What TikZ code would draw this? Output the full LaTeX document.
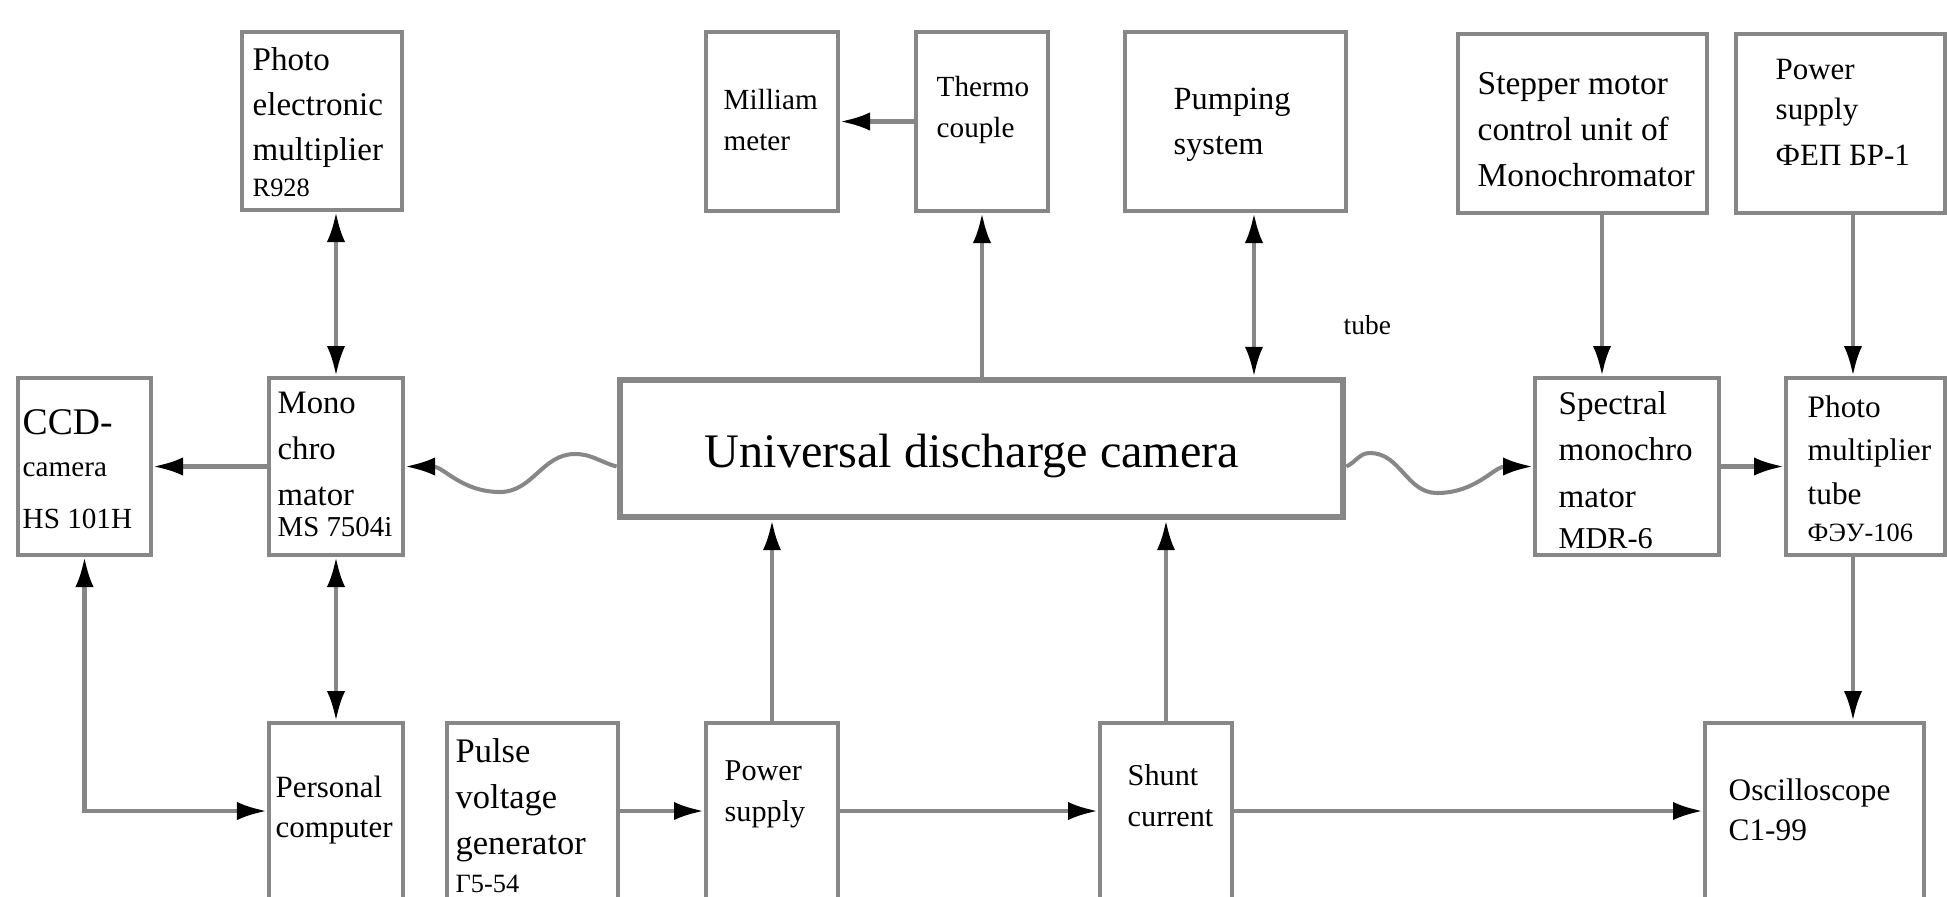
\documentclass[tikz,border=0pt]{standalone}
\usepackage{fontspec}
\setmainfont{Liberation Serif}
\usetikzlibrary{arrows.meta,fit}
\definecolor{linegray}{RGB}{135,135,135}
\newcommand\boxtext[1]{\begin{tabular}[t]{@{}l@{}}#1\end{tabular}}
\newcommand\fs[2]{\fontsize{#1}{#2}\selectfont}
\begin{document}
\begin{tikzpicture}[x=0.01cm,y=-0.01cm,
  blk/.style={draw=linegray, line width=1.2pt, inner sep=0pt},
  bigblk/.style={draw=linegray, line width=1.9pt, inner sep=0pt},
  txt/.style={inner sep=0pt, anchor=base west},
  con/.style={draw=linegray, line width=1.15pt},
  tip/.style={-{Latex[black,length=8.5pt,width=5.2pt]}},
  dtip/.style={{Latex[black,length=8.5pt,width=5.2pt]}-{Latex[black,length=8.5pt,width=5.2pt]}},
]
\useasboundingbox (0,0) rectangle (1947,896);
\clip (0,0) rectangle (1947,896);

% ---- boxes ----
\node[blk, fit={(242,32) (402,210)}] (pem) {};
\node[blk, fit={(706,32) (838,211)}] (milli) {};
\node[blk, fit={(916,32) (1048,211)}] (thermo) {};
\node[blk, fit={(1125,32) (1346,211)}] (pump) {};
\node[blk, fit={(1458,34) (1707,213)}] (step) {};
\node[blk, fit={(1736,34) (1945,213)}] (psfep) {};

\node[blk, fit={(18,378) (151,555)}] (ccd) {};
\node[blk, fit={(269,378) (403,555)}] (mono) {};
\node[bigblk, fit={(620,380) (1343,517)}] (udc) {};
\node[blk, fit={(1535,378) (1719,555)}] (spec) {};
\node[blk, fit={(1786,378) (1945,555)}] (pmt) {};

\node[blk, fit={(269,723) (403,930)}] (pc) {};
\node[blk, fit={(447,723) (618,930)}] (pulse) {};
\node[blk, fit={(706,723) (838,930)}] (ps) {};
\node[blk, fit={(1100,723) (1232,930)}] (shunt) {};
\node[blk, fit={(1705,723) (1924,930)}] (osc) {};

% ---- texts ----
\node[txt, font=\fs{9.4}{12.8}] (pem-t) at (252,70) {\boxtext{Photo\\electronic\\multiplier\\[-2.3pt]{\fs{7.5}{9}R928}}};
\node[txt, font=\fs{8.3}{11.7}] (milli-t) at (723,109) {\boxtext{Milliam\\meter}};
\node[txt, font=\fs{8.3}{11.7}] (thermo-t) at (936,96) {\boxtext{Thermo\\couple}};
\node[txt, font=\fs{9.2}{12.8}] (pump-t) at (1173,109) {\boxtext{Pumping\\system}};
\node[txt, font=\fs{9.5}{13.1}] (step-t) at (1477,94) {\boxtext{Stepper motor\\control unit of\\Monochromator}};
\node[txt, font=\fs{8.8}{11.4}] (psfep-t) at (1775,79) {\boxtext{Power\\supply\\[1.7pt]ФЕП БР-1}};

\node[txt, font=\fs{8.3}{12.2}] (ccd-t) at (22,434) {\boxtext{{\fs{10.7}{12}CCD-}\\camera\\[2.6pt]HS 101H}};
\node[txt, font=\fs{9.3}{13.1}] (mono-t) at (277,413) {\boxtext{Mono\\chro\\mator\\[-4.3pt]{\fs{8.2}{9}MS 7504i}}};
\node[txt, anchor=base, font=\fs{13.7}{16}] (udc-t) at (972,467) {Universal discharge camera};
\node[txt, font=\fs{9.4}{13.3}] (spec-t) at (1558,414) {\boxtext{Spectral\\monochro\\mator\\[-1.7pt]{\fs{8.6}{10}MDR-6}}};
\node[txt, font=\fs{8.9}{12.5}] (pmt-t) at (1807,417) {\boxtext{Photo\\multiplier\\tube\\[-2pt]{\fs{7.5}{9}ФЭУ-106}}};

\node[txt, font=\fs{8.8}{11.4}] (pc-t) at (275,797) {\boxtext{Personal\\computer}};
\node[txt, font=\fs{9.8}{13.1}] (pulse-t) at (455,762) {\boxtext{Pulse\\voltage\\generator\\[-2.3pt]{\fs{7.5}{9}Г5-54}}};
\node[txt, font=\fs{8.6}{11.9}] (ps-t) at (724,780) {\boxtext{Power\\supply}};
\node[txt, font=\fs{8.6}{11.9}] (shunt-t) at (1127,785) {\boxtext{Shunt\\current}};
\node[txt, font=\fs{8.9}{11.4}] (osc-t) at (1728,800) {\boxtext{Oscilloscope\\C1-99}};

\node[txt, font=\fs{7.8}{9}] (tube) at (1343,334) {tube};

% ---- helper coordinates ----
\coordinate (pumpx) at (1254,0);
\coordinate (stepx) at (1602,0);
\coordinate (pmtx) at (1853,0);
\coordinate (ylow) at (0,811);

% ---- connectors ----
\draw[con,dtip] (pem.south -| mono.north) -- (mono.north);
\draw[con,tip] (mono.west) -- (ccd.east);
\draw[con,tip] (udc.west |- mono.east) to[out=165,in=0] (575,454) to[out=180,in=0] (500,492) to[out=180,in=0] (mono.east);
\draw[con,tip] (udc.east |- spec.west) to[out=25,in=180] (1370,453) to[out=0,in=180] (1437,493) to[out=0,in=180] (spec.west);
\draw[con,tip] (spec.east) -- (pmt.west);
\draw[con,tip] (step.south -| stepx) -- (spec.north -| stepx);
\draw[con,tip] (psfep.south -| pmtx) -- (pmt.north -| pmtx);
\draw[con,tip] (pmt.south -| pmtx) -- (osc.north -| pmtx);
\draw[con,tip] (thermo.west) -- (milli.east);
\draw[con,tip] (udc.north -| thermo.south) -- (thermo.south);
\draw[con,dtip] (udc.north -| pumpx) -- (pump.south -| pumpx);
\draw[con,tip] (ps.north) -- (udc.south -| ps.north);
\draw[con,tip] (shunt.north) -- (udc.south -| shunt.north);
\draw[con,tip] (pulse.east |- ylow) -- (ps.west |- ylow);
\draw[con,tip] (ps.east |- ylow) -- (shunt.west |- ylow);
\draw[con,tip] (shunt.east |- ylow) -- (osc.west |- ylow);
\draw[con,dtip] (ccd.south) |- (pc.west |- ylow);
\draw[con,dtip] (mono.south) -- (pc.north);
\end{tikzpicture}
\end{document}
